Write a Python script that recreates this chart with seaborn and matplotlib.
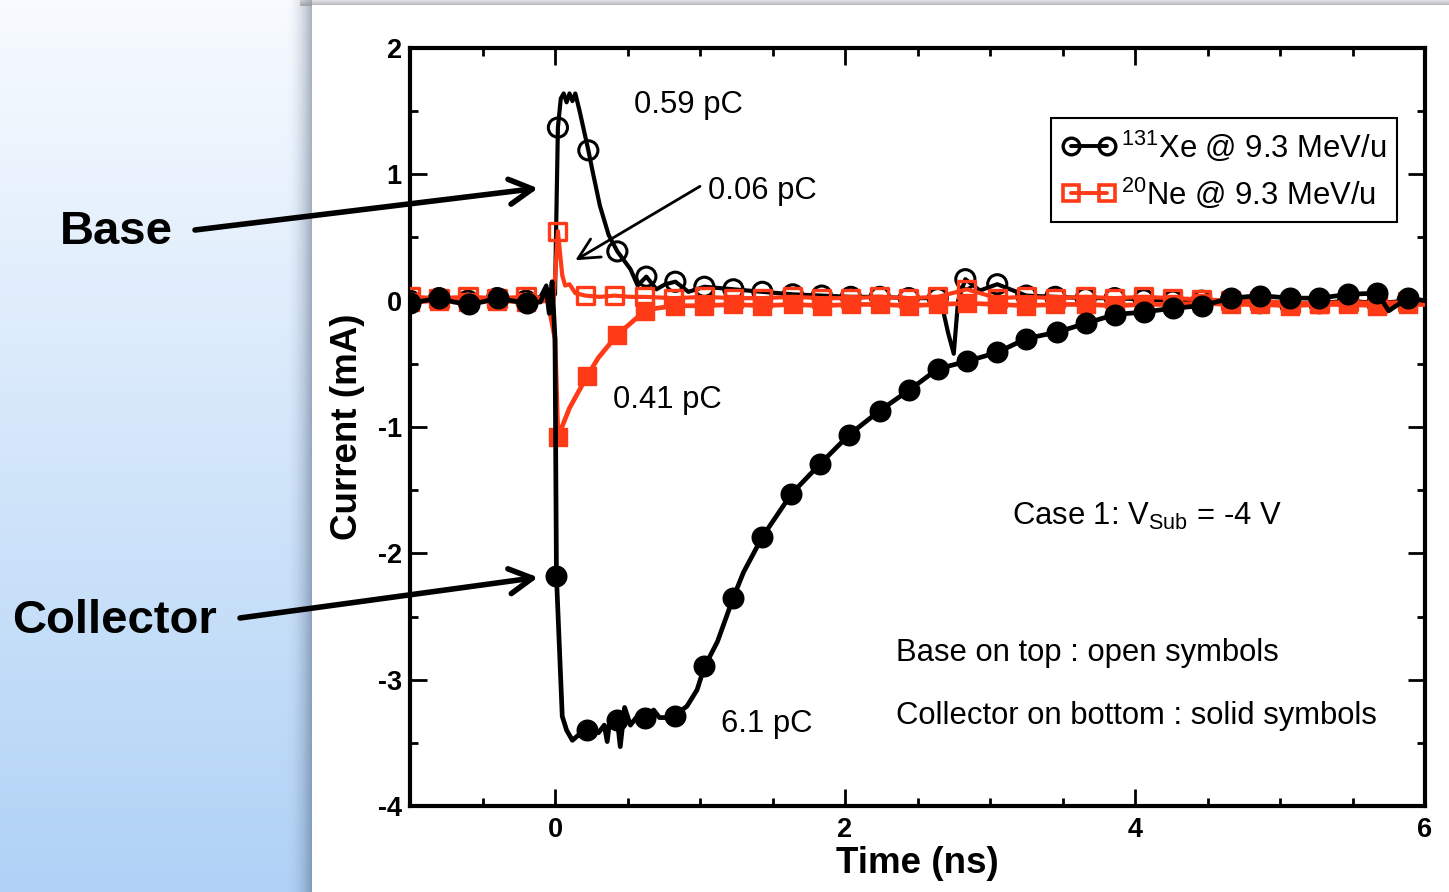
import numpy as np
import matplotlib
matplotlib.use("Agg")
import matplotlib.pyplot as plt
import seaborn as sns
from matplotlib.lines import Line2D
from matplotlib.patches import Rectangle
from matplotlib.ticker import MultipleLocator

# ---------------- data ----------------
xe_base_t = [-1.0, -0.8, -0.6, -0.4, -0.2, -0.1, -0.06, -0.04, -0.02, 0.0,
             0.02, 0.04, 0.06, 0.08, 0.10, 0.12, 0.14, 0.17, 0.23, 0.26,
             0.31, 0.37, 0.43, 0.52, 0.57, 0.63, 0.70, 0.76, 0.83, 0.92,
             1.03, 1.23, 1.43, 1.64, 1.84, 2.04, 2.24, 2.44, 2.60, 2.66,
             2.71, 2.75, 2.78, 2.83, 2.93, 3.05, 3.25, 3.45, 3.66, 3.86,
             4.06, 4.26, 4.46, 4.66, 4.86, 5.07, 5.27, 5.47, 5.67, 5.88, 6.0]
xe_base_i = [0.0, 0.02, 0.0, 0.02, 0.0, 0.03, 0.12, -0.06, 0.14, 0.05,
             1.37, 1.60, 1.64, 1.57, 1.64, 1.58, 1.64, 1.50, 1.19, 1.02,
             0.75, 0.52, 0.39, 0.25, 0.12, 0.19, 0.09, 0.13, 0.15, 0.07,
             0.11, 0.09, 0.07, 0.05, 0.04, 0.03, 0.03, 0.02, 0.02, 0.01,
             -0.25, -0.42, 0.0, 0.17, 0.08, 0.13, 0.04, 0.03, 0.02, 0.02,
             0.01, 0.0, 0.0, 0.0, -0.02, -0.03, -0.02, 0.0, -0.02, 0.0, 0.0]
xe_base_mt = [-1.0, -0.8, -0.6, -0.4, -0.2, 0.02, 0.23, 0.43, 0.63, 0.83,
              1.03, 1.23, 1.43, 1.64, 1.84, 2.04, 2.24, 2.44, 2.64, 2.83,
              3.05, 3.25, 3.45, 3.66, 3.86, 4.06, 4.26, 4.46, 4.66, 4.86,
              5.07, 5.27, 5.47, 5.67, 5.88]
xe_base_mi = [0.0, 0.02, 0.0, 0.02, 0.0, 1.37, 1.19, 0.39, 0.19, 0.15,
              0.11, 0.09, 0.07, 0.05, 0.04, 0.03, 0.03, 0.02, 0.02, 0.17,
              0.13, 0.04, 0.03, 0.02, 0.02, 0.01, 0.0, 0.0, 0.0, -0.02,
              -0.03, -0.02, 0.0, -0.02, 0.0]

xe_coll_t = [-1.0, -0.9, -0.8, -0.7, -0.6, -0.5, -0.4, -0.3, -0.2, -0.1,
             -0.06, -0.04, -0.02, 0.0, 0.01, 0.05, 0.08, 0.12, 0.16, 0.23,
             0.30, 0.34, 0.36, 0.38, 0.43, 0.45, 0.48, 0.52, 0.56, 0.60,
             0.63, 0.68, 0.72, 0.77, 0.83, 0.91, 0.98, 1.03, 1.12, 1.23,
             1.30, 1.43, 1.63, 1.83, 2.03, 2.24, 2.44, 2.64, 2.84, 3.05,
             3.25, 3.46, 3.66, 3.86, 4.06, 4.26, 4.46, 4.66, 4.86, 5.07,
             5.27, 5.47, 5.67, 5.75, 5.88, 6.0]
xe_coll_i = [-0.02, 0.0, 0.02, -0.01, -0.03, -0.01, 0.02, 0.0, -0.02, -0.01,
             0.10, -0.10, 0.15, -0.30, -2.18, -3.29, -3.40, -3.48, -3.44, -3.40,
             -3.42, -3.36, -3.49, -3.30, -3.32, -3.53, -3.22, -3.36, -3.30, -3.34,
             -3.32, -3.24, -3.30, -3.30, -3.28, -3.21, -3.08, -2.90, -2.70, -2.35,
             -2.15, -1.87, -1.53, -1.29, -1.06, -0.87, -0.71, -0.54, -0.48, -0.41,
             -0.30, -0.25, -0.18, -0.11, -0.09, -0.06, -0.04, 0.02, 0.04, 0.02,
             0.02, 0.05, 0.06, -0.08, 0.02, 0.0]
xe_coll_mt = [-1.0, -0.8, -0.59, -0.39, -0.19, 0.01, 0.22, 0.43, 0.62, 0.83,
              1.03, 1.23, 1.43, 1.63, 1.83, 2.03, 2.24, 2.44, 2.64, 2.84,
              3.05, 3.25, 3.46, 3.66, 3.86, 4.06, 4.26, 4.46, 4.66, 4.86,
              5.07, 5.27, 5.47, 5.67, 5.88]
xe_coll_mi = [-0.02, 0.02, -0.03, 0.02, -0.02, -2.18, -3.40, -3.32, -3.30, -3.29,
              -2.89, -2.35, -1.87, -1.53, -1.29, -1.06, -0.87, -0.71, -0.54, -0.48,
              -0.41, -0.30, -0.25, -0.18, -0.11, -0.09, -0.06, -0.04, 0.02, 0.04,
              0.02, 0.02, 0.05, 0.06, 0.02]

ne_base_t = [-1.0, -0.8, -0.6, -0.4, -0.2, -0.05, -0.01, 0.02, 0.05, 0.07,
             0.10, 0.14, 0.21, 0.31, 0.41, 0.52, 0.62, 0.82, 1.03, 1.23,
             1.43, 1.64, 1.84, 2.04, 2.24, 2.44, 2.64, 2.84, 3.05, 3.25,
             3.45, 3.66, 3.86, 4.06, 4.26, 4.46, 4.66, 4.86, 5.07, 5.27,
             5.47, 5.67, 5.88, 6.0]
ne_base_i = [0.03, 0.02, 0.03, 0.02, 0.03, 0.02, 0.0, 0.55, 0.20, 0.12,
             0.13, 0.06, 0.04, 0.03, 0.04, 0.03, 0.03, 0.02, 0.03, 0.02,
             0.02, 0.03, 0.02, 0.02, 0.03, 0.02, 0.03, 0.09, 0.02, 0.03,
             0.02, 0.03, 0.02, 0.03, 0.02, 0.01, 0.0, 0.0, -0.02, -0.02,
             -0.01, -0.02, -0.01, 0.0]
ne_base_mt = [-1.0, -0.8, -0.6, -0.4, -0.2, 0.02, 0.21, 0.41, 0.62, 0.82,
              1.03, 1.23, 1.43, 1.64, 1.84, 2.04, 2.24, 2.44, 2.64, 2.84,
              3.05, 3.25, 3.45, 3.66, 3.86, 4.06, 4.26, 4.46, 4.66, 4.86,
              5.07, 5.27, 5.47, 5.67, 5.88]
ne_base_mi = [0.03, 0.02, 0.03, 0.02, 0.03, 0.55, 0.04, 0.04, 0.03, 0.02,
              0.03, 0.02, 0.02, 0.03, 0.02, 0.02, 0.03, 0.02, 0.03, 0.09,
              0.02, 0.03, 0.02, 0.03, 0.02, 0.03, 0.02, 0.01, 0.0, 0.0,
              -0.02, -0.02, -0.01, -0.02, -0.01]

ne_coll_t = [-1.0, -0.8, -0.6, -0.4, -0.2, -0.05, 0.0, 0.02, 0.10, 0.22,
             0.30, 0.43, 0.50, 0.62, 0.70, 0.83, 1.03, 1.23, 1.43, 1.64,
             1.84, 2.04, 2.24, 2.44, 2.64, 2.84, 3.05, 3.25, 3.45, 3.66,
             3.86, 4.06, 4.26, 4.46, 4.66, 4.86, 5.07, 5.27, 5.47, 5.67,
             5.88, 6.0]
ne_coll_i = [-0.01, 0.0, -0.01, 0.0, -0.01, 0.0, -0.30, -1.08, -0.85, -0.60,
             -0.45, -0.27, -0.20, -0.08, -0.06, -0.04, -0.04, -0.03, -0.04, -0.03,
             -0.04, -0.03, -0.03, -0.04, -0.03, -0.02, -0.03, -0.04, -0.03, -0.03,
             -0.04, -0.03, -0.03, -0.02, -0.03, -0.03, -0.04, -0.03, -0.03, -0.04,
             -0.03, -0.03]
ne_coll_mt = [-1.0, -0.8, -0.6, -0.4, -0.2, 0.02, 0.22, 0.43, 0.62, 0.83,
              1.03, 1.23, 1.43, 1.64, 1.84, 2.04, 2.24, 2.44, 2.64, 2.84,
              3.05, 3.25, 3.45, 3.66, 3.86, 4.06, 4.26, 4.46, 4.66, 4.86,
              5.07, 5.27, 5.47, 5.67, 5.88]
ne_coll_mi = [-0.01, 0.0, -0.01, 0.0, -0.01, -1.08, -0.60, -0.27, -0.08, -0.04,
              -0.04, -0.03, -0.04, -0.03, -0.04, -0.03, -0.03, -0.04, -0.03, -0.02,
              -0.03, -0.04, -0.03, -0.03, -0.04, -0.03, -0.03, -0.02, -0.03, -0.03,
              -0.04, -0.03, -0.03, -0.04, -0.03]

legend_labels = [r"$^{131}$Xe @ 9.3 MeV/u", r"$^{20}$Ne @ 9.3 MeV/u"]
x_ticks = [0, 2, 4, 6]
y_ticks = [-4, -3, -2, -1, 0, 1, 2]

# ---------------- style ----------------
sns.set_theme(style="white")
plt.rcParams["font.family"] = ["Liberation Sans", "DejaVu Sans"]
plt.rcParams["mathtext.fontset"] = "custom"
plt.rcParams["mathtext.rm"] = "Liberation Sans"
plt.rcParams["mathtext.it"] = "Liberation Sans"
plt.rcParams["axes.unicode_minus"] = False
for key in ["text.color", "axes.labelcolor", "xtick.color", "ytick.color",
            "axes.edgecolor"]:
    plt.rcParams[key] = "black"

BLACK = "#000000"
RED = "#ff3a17"
FS = 22.3

W, H = 1449, 892
fig = plt.figure(figsize=(W / 100, H / 100), dpi=100)

# background: blue gradient + white panel with shadow
bg = fig.add_axes([0, 0, 1, 1], zorder=-10)
bg.set_xlim(0, W)
bg.set_ylim(H, 0)
bg.axis("off")
top = np.array([248, 251, 255]) / 255
bot = np.array([176, 210, 246]) / 255
s = np.linspace(0, 1, 256)[:, None]
grad = (top[None, :] * (1 - s) + bot[None, :] * s)[:, None, :]
bg.imshow(grad, extent=[0, W, H, 0], aspect="auto", zorder=0)
for k in range(26):
    a = 0.40 * ((k + 1) / 26) ** 2
    bg.add_patch(Rectangle((312 - 26 + k, 0), 1.05, H, color="#3a4a66",
                           alpha=a, lw=0, zorder=1))
for k in range(6):
    bg.add_patch(Rectangle((300, k), W - 300, 1.05, color="#8e8e92",
                           alpha=0.25 + 0.08 * k, lw=0, zorder=1))
bg.add_patch(Rectangle((312, 5), W - 312, H - 5, color="white", lw=0, zorder=2))

ax = fig.add_axes([410 / W, 86 / H, 1015 / W, 758 / H])
ax.set_facecolor("white")

# lines
sns.lineplot(x=xe_base_t, y=xe_base_i, ax=ax, color=BLACK, lw=3.0,
             sort=False, estimator=None, zorder=3)
sns.lineplot(x=xe_coll_t, y=xe_coll_i, ax=ax, color=BLACK, lw=3.4,
             sort=False, estimator=None, zorder=6)
sns.lineplot(x=ne_base_t, y=ne_base_i, ax=ax, color=RED, lw=3.0,
             sort=False, estimator=None, zorder=4)
sns.lineplot(x=ne_coll_t, y=ne_coll_i, ax=ax, color=RED, lw=3.4,
             sort=False, estimator=None, zorder=5)

# markers
sns.scatterplot(x=xe_base_mt, y=xe_base_mi, ax=ax, marker="o", s=190,
                facecolor="none", edgecolor=BLACK, linewidth=2.2, zorder=3.5)
sns.scatterplot(x=ne_base_mt, y=ne_base_mi, ax=ax, marker="s", s=150,
                facecolor="none", edgecolor=RED, linewidth=2.4, zorder=4.5)
sns.scatterplot(x=ne_coll_mt, y=ne_coll_mi, ax=ax, marker="s", s=150,
                color=RED, edgecolor=RED, linewidth=1, zorder=5.5)
sns.scatterplot(x=xe_coll_mt, y=xe_coll_mi, ax=ax, marker="o", s=220,
                color=BLACK, edgecolor=BLACK, linewidth=1, zorder=6.5)

ax.set_xlim(-1, 6)
ax.set_ylim(-4, 2)
ax.xaxis.set_major_locator(MultipleLocator(2))
ax.xaxis.set_minor_locator(MultipleLocator(0.5))
ax.yaxis.set_major_locator(MultipleLocator(1))
ax.yaxis.set_minor_locator(MultipleLocator(0.5))
ax.set_xticks(x_ticks)
ax.set_yticks(y_ticks)
ax.tick_params(which="both", direction="in", top=True, right=True,
               bottom=True, left=True, width=2.0, color="black")
ax.tick_params(which="major", length=12)
ax.tick_params(which="minor", length=6)
ax.tick_params(axis="x", which="major", labelsize=19.5, pad=8)
ax.tick_params(axis="y", which="major", labelsize=19.5, pad=6)
for lab in ax.get_xticklabels() + ax.get_yticklabels():
    lab.set_fontweight("bold")
for sp in ax.spines.values():
    sp.set_linewidth(3)
    sp.set_color("black")

ax.set_xlabel("Time (ns)", fontsize=26.5, fontweight="bold", labelpad=2)
ax.set_ylabel("Current (mA)", fontsize=26.5, fontweight="bold", labelpad=9)

# legend
handles = [
    Line2D([0], [0], color=BLACK, lw=2.8, marker="o", ms=12, mfc="none",
           mec=BLACK, mew=2.4),
    Line2D([0], [0], color=RED, lw=2.8, marker="s", ms=11, mfc="none",
           mec=RED, mew=2.6),
]
leg = ax.legend(handles, legend_labels, loc="upper right",
                bbox_to_anchor=(0.9724, 0.9077), borderaxespad=0,
                fontsize=FS, numpoints=2, handlelength=1.75, handletextpad=0.15,
                labelspacing=0.42, borderpad=0.36, fancybox=False,
                framealpha=1, edgecolor="black")
leg.get_frame().set_linewidth(1.5)
leg.set_zorder(10)

# text annotations
ax.text(0.545, 1.545, "0.59 pC", fontsize=FS, ha="left", va="center", zorder=10)
ax.text(1.055, 0.87, "0.06 pC", fontsize=FS, ha="left", va="center", zorder=10)
ax.text(0.40, -0.785, "0.41 pC", fontsize=FS, ha="left", va="center", zorder=10)
ax.text(1.145, -3.35, "6.1 pC", fontsize=FS, ha="left", va="center", zorder=10)
ax.text(3.15, -1.705, r"Case 1: V$_{\rm Sub}$ = -4 V", fontsize=FS,
        ha="left", va="center", zorder=10)
ax.text(2.35, -2.79, "Base on top : open symbols", fontsize=FS,
        ha="left", va="center", zorder=10)
ax.text(2.35, -3.29, "Collector on bottom : solid symbols", fontsize=FS,
        ha="left", va="center", zorder=10)

ax.annotate("", xy=(0.14, 0.32), xytext=(1.0, 0.905),
            arrowprops=dict(arrowstyle="->,head_length=0.5,head_width=0.25",
                            lw=2.0, color="black", mutation_scale=30,
                            shrinkA=0, shrinkB=0), zorder=10)

# left side labels with arrows
fig.text(60 / W, 1 - 232 / H, "Base", fontsize=34, fontweight="bold",
         ha="left", va="center", color="black")
fig.text(12 / W, 1 - 621 / H, "Collector", fontsize=34, fontweight="bold",
         ha="left", va="center", color="black")
arrow_kw = dict(arrowstyle="->,head_length=0.55,head_width=0.3", lw=4.0,
                color="black", mutation_scale=30, shrinkA=0, shrinkB=0)
ax.annotate("", xy=(-0.117, 0.89), xycoords="data",
            xytext=(195, H - 230), textcoords="figure pixels",
            arrowprops=arrow_kw, annotation_clip=False, zorder=12)
ax.annotate("", xy=(-0.117, -2.19), xycoords="data",
            xytext=(240, H - 618), textcoords="figure pixels",
            arrowprops=arrow_kw, annotation_clip=False, zorder=12)

fig.savefig("out.png", dpi=100)
